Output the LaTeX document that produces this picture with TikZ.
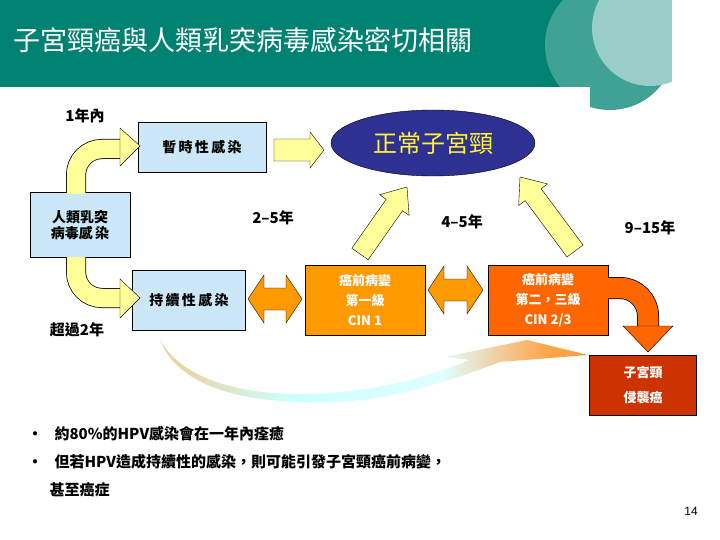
\documentclass[tikz,border=0pt]{standalone}
\usepackage{fontspec}
\setmainfont{Liberation Sans}
\newfontfamily\cjk{Noto Sans CJK TC}
\usetikzlibrary{shapes.geometric,shadings}
\definecolor{teal1}{HTML}{008272}
\definecolor{boxblue}{HTML}{CCE8F8}
\definecolor{ylw}{HTML}{FFFF99}
\definecolor{navy}{HTML}{2E3192}
\definecolor{or1}{HTML}{FF9900}
\definecolor{or2}{HTML}{FF6600}
\definecolor{or3}{HTML}{CC3300}
\pgfdeclarehorizontalshading{sweep}{100bp}{color(0bp)=(or1!60!brown); color(18bp)=(orange!60!white); color(40bp)=(cyan!20!white); color(58bp)=(cyan!12!white); color(70bp)=(orange!70!white); color(100bp)=(or2)}
\newcommand\myarrow[9]{%
 \pgfmathsetmacro\dx{#3-#1}\pgfmathsetmacro\dy{#4-#2}%
 \pgfmathsetmacro\L{sqrt(\dx*\dx+\dy*\dy)}%
 \pgfmathsetmacro\ux{\dx/\L}\pgfmathsetmacro\uy{\dy/\L}%
 \pgfmathsetmacro\nx{-\uy}\pgfmathsetmacro\ny{\ux}%
 \pgfmathsetmacro\bx{#3-#7*\ux}\pgfmathsetmacro\by{#4-#7*\uy}%
 \filldraw[fill=#8,draw=black] (#1+#5*\nx,#2+#5*\ny) -- (\bx+#5*\nx,\by+#5*\ny) -- (\bx+#6*\nx,\by+#6*\ny) -- (#3,#4) -- (\bx-#6*\nx,\by-#6*\ny) -- (\bx-#5*\nx,\by-#5*\ny) -- (#1-#5*\nx,#2-#5*\ny) -- cycle #9;}
\newcommand\mydarrow[7]{%
 \filldraw[fill=#7,draw=black] (#1,#3) -- (#1+#6,#3-#5) -- (#1+#6,#3-#4) -- (#2-#6,#3-#4) -- (#2-#6,#3-#5) -- (#2,#3) -- (#2-#6,#3+#5) -- (#2-#6,#3+#4) -- (#1+#6,#3+#4) -- (#1+#6,#3+#5) -- cycle;}
\begin{document}
\begin{tikzpicture}[x=1pt,y=-1pt,
  bbox/.style={draw=black,fill=boxblue,minimum width=#1,minimum height=50,inner sep=1,align=center,font=\cjk\bfseries\fontsize{14}{16}\selectfont},
  obox/.style={draw=black,fill=#1,minimum width=120,minimum height=70,align=center,text=white,font=\cjk\bfseries\fontsize{13}{20}\selectfont},
  lbl/.style={font=\cjk\bfseries\fontsize{15}{16}\selectfont}]
\useasboundingbox (0,0) rectangle (720,540);
\fill[teal1] (0,0) rectangle (640,87);
\fill[teal1!75!white] (610,45) circle (65);
\fill[teal1!40!white] (650,28) circle (58);
\fill[white] (672,0) rectangle (720,120);
\fill[white] (0,87) rectangle (590,120);
\node[anchor=west,text=white,font=\cjk\fontsize{27}{28}\selectfont] (title) at (10,40) {子宮頸癌與人類乳突病毒感染密切相關};
\node[bbox=128] (tmp) at (202,147) {暫\,時\,性\,感\,染};
\node[bbox=100,minimum height=65,font=\cjk\bfseries\fontsize{14}{16}\selectfont] (hpv) at (80,225) {人類乳突\\病毒感\,染};
\node[bbox=113,minimum height=60] (per) at (189,300) {持\,續\,性\,感\,染};
\node[ellipse,draw=black,fill=navy,minimum width=204,minimum height=66,text=yellow!80!white,font=\cjk\fontsize{24}{26}\selectfont] (norm) at (433,143) {正常子宮頸};
\node[obox=or1] (c1) at (365,300) {癌前病變\\第一級\\CIN 1};
\node[obox=or2] (c2) at (548,300) {癌前病變\\第二，三級\\CIN 2/3};
\node[obox=or3,minimum width=107,minimum height=60,font=\cjk\bfseries\fontsize{13}{25}\selectfont] (inv) at (643,385) {子宮頸\\侵襲癌};
\myarrow{274}{150}{324}{150}{11}{18}{14}{ylw}{}
\myarrow{360}{254}{407}{187}{10}{18}{22}{ylw}{}
\myarrow{575}{251}{520}{177}{10}{18}{22}{ylw}{}
\mydarrow{248}{302}{299}{11}{24}{16}{or1}
\mydarrow{428}{483}{290}{11}{24}{16}{or1}
\draw[black,line width=20] (76,193) -- (76,175) arc[start angle=180,end angle=270,radius=26] -- (120,149);
\draw[ylw,line width=18.5] (76,194) -- (76,175) arc[start angle=180,end angle=270,radius=26] -- (121,149);
\filldraw[fill=ylw,draw=black] (120,128) -- (140,146) -- (120,166) -- cycle;
\draw[black,line width=20] (76,258) -- (76,272) arc[start angle=180,end angle=90,radius=26] -- (120,298);
\draw[ylw,line width=18.5] (76,257) -- (76,272) arc[start angle=180,end angle=90,radius=26] -- (121,298);
\filldraw[fill=ylw,draw=black] (120,279) -- (140,298) -- (120,318) -- cycle;
\draw[black,line width=22] (608,288) -- (620,288) arc[start angle=-90,end angle=0,radius=28] -- (648,326);
\draw[or2,line width=20.5] (607,288) -- (620,288) arc[start angle=-90,end angle=0,radius=28] -- (648,327);
\filldraw[fill=or2,draw=black] (623,326) -- (673,326) -- (648,352) -- cycle;
\shade[shading=sweep]
  (160,340) .. controls (185,385) and (260,400) .. (340,392)
  .. controls (400,386) and (440,372) .. (470,360) -- (445,357) -- (527,340) -- (588,355)
  -- (500,362) .. controls (440,385) and (380,402) .. (330,402) .. controls (250,404) and (180,390) .. (160,340) -- cycle;
\node[lbl] (l1) at (85,116) {1年內};
\node[lbl] (l2) at (77,330) {超過2年};
\node[lbl] (l3) at (273,218) {2–5年};
\node[lbl] (l4) at (462,222) {4–5年};
\node[lbl] (l5) at (650,228) {9–15年};
\node[anchor=west,align=left,font=\cjk\bfseries\fontsize{15}{28}\selectfont] (bul) at (24,462) {•\hspace{12pt}約80\%的HPV感染會在一年內痊癒\\•\hspace{12pt}但若HPV造成持續性的感染，則可能引發子宮頸癌前病變，\\\hspace{22pt}甚至癌症};
\node[font=\fontsize{12}{14}\selectfont] (pg) at (691,511) {14};
\end{tikzpicture}
\end{document}
